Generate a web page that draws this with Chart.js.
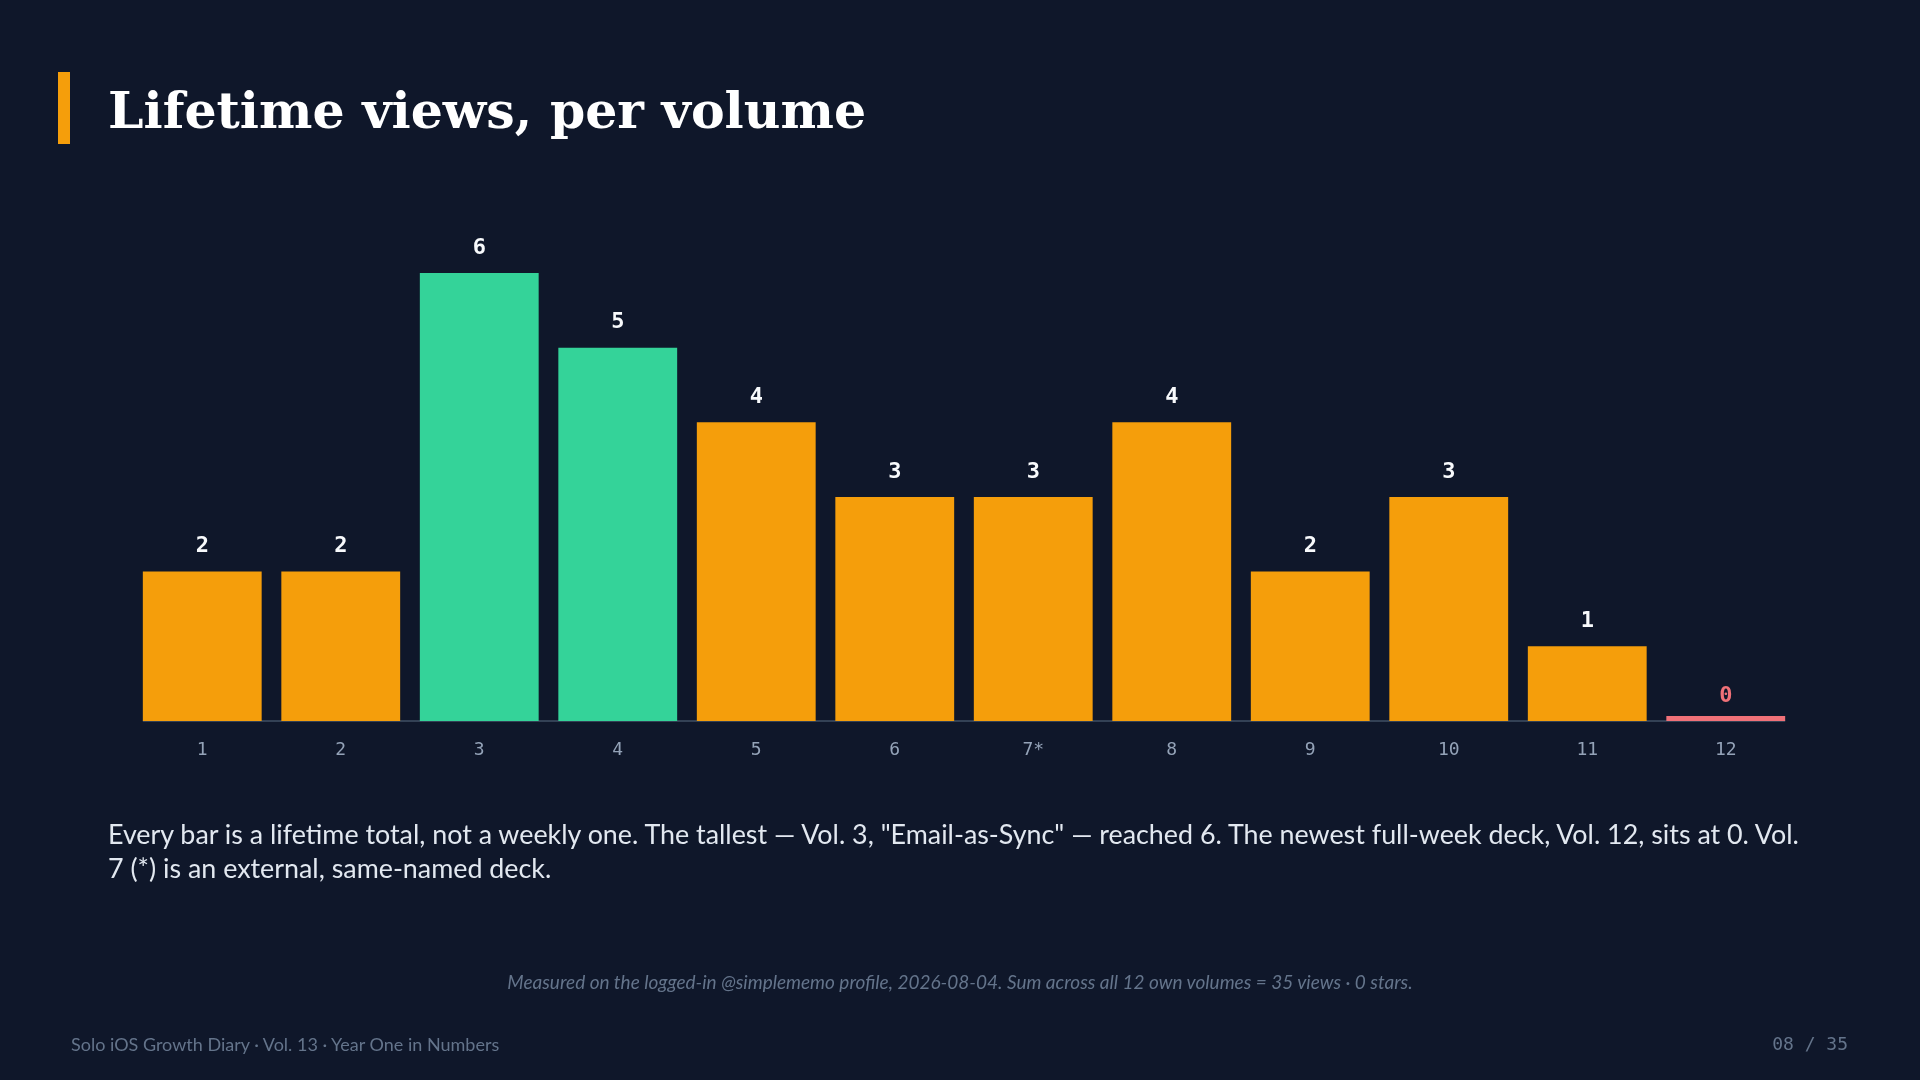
<!DOCTYPE html>
<html>
<head>
<meta charset="utf-8">
<script src="https://cdn.jsdelivr.net/npm/chart.js@4.4.1/dist/chart.umd.min.js"></script>
<style>
    html, body { margin: 0; padding: 0; }
    body {
        width: 1920px; height: 1080px; overflow: hidden;
        background: #0f172a; position: relative;
        font-family: Lato, "Noto Sans", sans-serif;
    }
    #chart-wrap { position: absolute; left: 0; top: 0; width: 1920px; height: 1080px; }
    .accent { position: absolute; left: 58px; top: 72px; width: 12px; height: 72px; background: #f59e0b; }
    h1 {
        position: absolute; left: 108px; top: 81px; margin: 0;
        font-family: "DejaVu Serif", serif; font-weight: bold; font-size: 50.5px;
        line-height: 60px; color: #ffffff;
    }
    .body-text {
        position: absolute; left: 108px; top: 817px; width: 1704px; margin: 0;
        font-size: 26.85px; line-height: 33.5px; color: #e2e8f0;
    }
    .footnote {
        position: absolute; left: 0; width: 1920px; top: 970px; margin: 0; text-align: center;
        font-style: italic; font-size: 19px; color: #64748b;
    }
    .footer-left { position: absolute; left: 71px; top: 1033px; font-size: 18px; color: #64748b; }
    .footer-right {
        position: absolute; right: 72px; top: 1033px; font-size: 18px; color: #64748b;
        font-family: "DejaVu Sans Mono", monospace; white-space: pre;
    }
</style>
</head>
<body>
<div id="chart-wrap"><canvas id="views-chart"></canvas></div>
<div class="accent"></div>
<h1>Lifetime views, per volume</h1>
<p class="body-text">Every bar is a lifetime total, not a weekly one. The tallest — Vol. 3, "Email-as-Sync" — reached 6. The newest full-week deck, Vol. 12, sits at 0. Vol. 7 (*) is an external, same-named deck.</p>
<p class="footnote">Measured on the logged-in @simplememo profile, 2026-08-04. Sum across all 12 own volumes = 35 views · 0 stars.</p>
<div class="footer-left">Solo iOS Growth Diary · Vol. 13 · Year One in Numbers</div>
<div class="footer-right">08 / 35</div>

<script>
// data
const volumes = ['1', '2', '3', '4', '5', '6', '7*', '8', '9', '10', '11', '12'];
const lifetimeViews = [2, 2, 6, 5, 4, 3, 3, 4, 2, 3, 1, 0];
const topVolumes = ['3', '4'];

const ORANGE = '#f59e0b';
const GREEN = '#34d399';
const RED = '#f07178';

function barColor(ctx) {
    const v = lifetimeViews[ctx.dataIndex];
    if (v === 0) return RED;
    return topVolumes.includes(volumes[ctx.dataIndex]) ? GREEN : ORANGE;
}

// baseline drawn only under the bars, from first bar edge to last bar edge
const baseline = {
    id: 'baseline',
    beforeDatasetsDraw(chart) {
        const { ctx } = chart;
        const bars = chart.getDatasetMeta(0).data;
        const first = bars[0], last = bars[bars.length - 1];
        const y = chart.scales.y.getPixelForValue(0);
        ctx.save();
        ctx.strokeStyle = '#334155';
        ctx.lineWidth = 2;
        ctx.beginPath();
        ctx.moveTo(first.x - first.width / 2, y);
        ctx.lineTo(last.x + last.width / 2, y);
        ctx.stroke();
        ctx.restore();
    }
};

// value labels above each bar (positioned from the value, not the min bar length)
const valueLabels = {
    id: 'valueLabels',
    afterDatasetsDraw(chart) {
        const { ctx } = chart;
        const yScale = chart.scales.y;
        const meta = chart.getDatasetMeta(0);
        ctx.save();
        ctx.font = 'bold 22px "DejaVu Sans Mono", monospace';
        ctx.textAlign = 'center';
        ctx.textBaseline = 'middle';
        meta.data.forEach((bar, i) => {
            const v = lifetimeViews[i];
            ctx.fillStyle = v === 0 ? RED : '#f8fafc';
            ctx.fillText(String(v), bar.x, yScale.getPixelForValue(v) - 25);
        });
        ctx.restore();
    }
};

new Chart(document.getElementById('views-chart'), {
    type: 'bar',
    data: {
        labels: volumes,
        datasets: [{
            data: lifetimeViews,
            backgroundColor: barColor,
            borderWidth: 0,
            minBarLength: 5,
            categoryPercentage: 1,
            barPercentage: 0.858
        }]
    },
    options: {
        responsive: true,
        maintainAspectRatio: false,
        animation: false,
        layout: { padding: { left: 133, right: 125, top: 273, bottom: 300.5 } },
        scales: {
            y: { display: false, min: 0, max: 6 },
            x: {
                grid: { display: false, drawTicks: false },
                border: { display: false },
                ticks: {
                    color: '#94a3b8',
                    padding: 18.5,
                    font: { family: '"DejaVu Sans Mono", monospace', size: 18 }
                }
            }
        },
        plugins: { legend: { display: false }, tooltip: { enabled: false } }
    },
    plugins: [baseline, valueLabels]
});
</script>
</body>
</html>
